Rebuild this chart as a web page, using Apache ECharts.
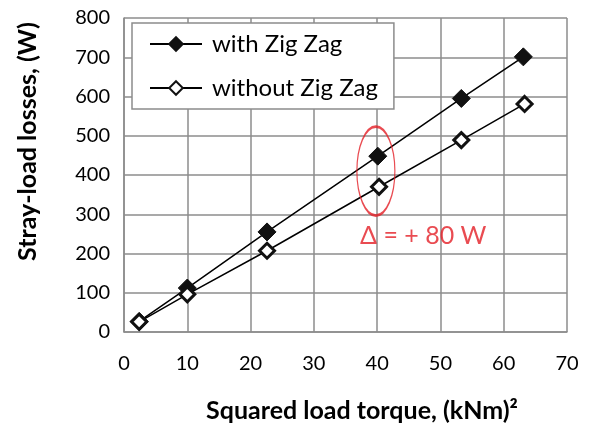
<!DOCTYPE html>
<html><head><meta charset="utf-8">
<script src="https://cdn.jsdelivr.net/npm/echarts@6/dist/echarts.min.js"></script>
<style>html,body{margin:0;padding:0;background:#fff}#c{width:589px;height:425px}</style>
</head><body><div id="c"></div>
<script>
const seriesNames = ['with Zig Zag', 'without Zig Zag'];
const torqueSq = [2.4, 10, 22.6, 40.1, 53.3, 63.1];
const torqueSqNo = [2.4, 10, 22.6, 40.3, 53.3, 63.3];
const withZigZag = [27, 112, 255, 448, 595, 701];
const withoutZigZag = [26, 96, 207, 370, 489, 581];
const ellipseCenter = [39.8, 410];
const deltaLabelPos = [37.3, 245];
const deltaText = 'Δ = + 80 W';
const xTicks = {min: 0, max: 70, interval: 10};
const yTicks = {min: 0, max: 800, interval: 100};

const font = 'Lato, "Open Sans", sans-serif';
const chart = echarts.init(document.getElementById('c'));
chart.setOption({
  animation: false,
  backgroundColor: '#fff',
  grid: {left: 124, right: 22, top: 18, bottom: 93, containLabel: false, outerBoundsMode: 'none'},
  legend: {
    orient: 'vertical', left: 132, top: 23,
    backgroundColor: '#fff',
    borderColor: '#8c8c8c', borderWidth: 1.5,
    padding: [9, 16, 9, 17],
    itemWidth: 52, itemHeight: 17, itemGap: 20,
    textStyle: {fontFamily: font, fontSize: 24, color: '#000', padding: [0, 0, 0, 5]},
    data: seriesNames
  },
  xAxis: {
    type: 'value', min: xTicks.min, max: xTicks.max, interval: xTicks.interval,
    name: 'Squared load torque, (kNm)²', nameLocation: 'middle', nameGap: 66,
    nameTextStyle: {fontFamily: font, fontSize: 25, fontWeight: 'bold', color: '#000', padding: [0, 0, 0, 33]},
    axisLine: {lineStyle: {color: '#8c8c8c', width: 1.5}},
    axisTick: {show: false},
    axisLabel: {fontFamily: font, fontSize: 20, color: '#000', margin: 22},
    splitLine: {lineStyle: {color: '#8c8c8c', width: 1.5}}
  },
  yAxis: {
    type: 'value', min: yTicks.min, max: yTicks.max, interval: yTicks.interval,
    name: 'Stray-load losses, (W)', nameLocation: 'middle', nameGap: 84,
    nameTextStyle: {fontFamily: font, fontSize: 25, fontWeight: 'bold', color: '#000', padding: [0, 0, 0, 67]},
    axisLine: {show: true, lineStyle: {color: '#8c8c8c', width: 1.5}},
    axisTick: {show: false},
    axisLabel: {fontFamily: font, fontSize: 20, color: '#000', margin: 14},
    splitLine: {lineStyle: {color: '#8c8c8c', width: 1.5}}
  },
  series: [
    {
      name: seriesNames[0], type: 'line',
      data: torqueSq.map((x, i) => [x, withZigZag[i]]),
      symbol: 'diamond', symbolSize: 18,
      lineStyle: {color: '#000', width: 1.5},
      itemStyle: {color: '#111', borderColor: '#111', borderWidth: 1},
      z: 3
    },
    {
      name: seriesNames[1], type: 'line',
      data: torqueSqNo.map((x, i) => [x, withoutZigZag[i]]),
      symbol: 'diamond', symbolSize: 15,
      lineStyle: {color: '#000', width: 1.5},
      itemStyle: {color: '#fff', borderColor: '#111', borderWidth: 3},
      z: 4
    },
    {
      type: 'scatter', silent: true,
      data: [ellipseCenter],
      symbol: 'circle', symbolSize: [38, 89],
      itemStyle: {color: 'rgba(0,0,0,0)', borderColor: '#e41e26', borderWidth: 1.8},
      z: 5
    },
    {
      type: 'scatter', silent: true,
      data: [deltaLabelPos],
      symbolSize: 0,
      label: {show: true, position: 'right', distance: 0, formatter: deltaText,
        fontFamily: font, fontSize: 25, color: '#e41e26'},
      z: 5
    }
  ]
});
</script></body></html>
